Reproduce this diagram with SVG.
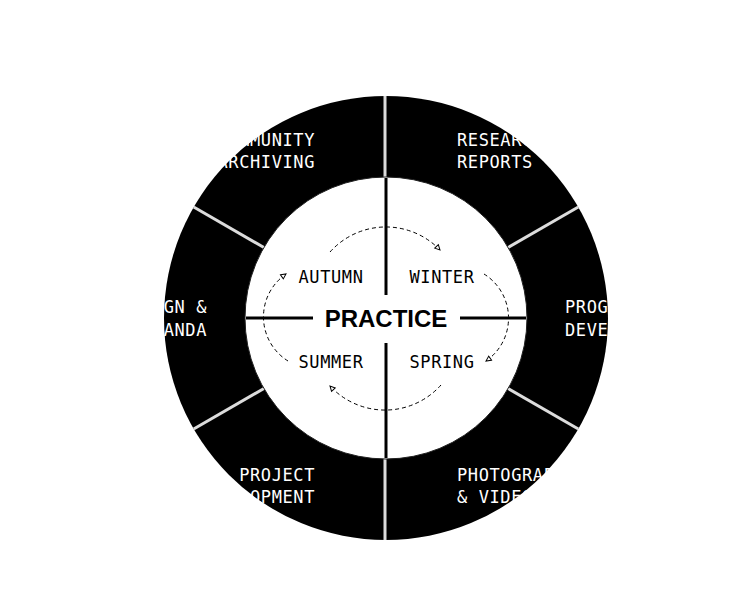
<svg xmlns="http://www.w3.org/2000/svg" width="750" height="600" viewBox="0 0 750 600">
<defs>
<style>
.lbl{font-family:"DejaVu Sans Mono","Liberation Mono",monospace;font-size:17px;letter-spacing:0.6px;fill:#ffffff}
.season{font-family:"DejaVu Sans Mono","Liberation Mono",monospace;font-size:17px;letter-spacing:0.6px;fill:#000000;text-anchor:middle}
.title{font-family:"Liberation Sans",Arial,sans-serif;font-size:24px;font-weight:bold;fill:#000000;text-anchor:middle}
.sep{stroke:#dcdcdc;stroke-width:3}
.cross{stroke:#000000;stroke-width:3}
.cyc{fill:none;stroke:#000000;stroke-width:1;stroke-dasharray:4 3}
</style>
<marker id="arr" viewBox="0 0 8 8" refX="6" refY="4" markerWidth="8" markerHeight="8" markerUnits="userSpaceOnUse" orient="auto">
<path d="M1,1.5 L6,4 L1,6.5 Z" fill="#ffffff" stroke="#000000" stroke-width="1"/>
</marker>
</defs>
<rect width="750" height="600" fill="#ffffff"/>
<g id="ring">
<circle cx="386" cy="318" r="222" fill="#000000"/>
</g>
<g id="separators">
<line class="sep" x1="385" y1="178" x2="385" y2="96"/>
<line class="sep" x1="385" y1="458" x2="385" y2="540"/>
<line class="sep" x1="264.8" y1="248" x2="193.7" y2="207"/>
<line class="sep" x1="507.2" y1="248" x2="578.3" y2="207"/>
<line class="sep" x1="264.8" y1="388" x2="193.7" y2="429"/>
<line class="sep" x1="507.2" y1="388" x2="578.3" y2="429"/>
</g>
<g id="inner">
<circle cx="386" cy="318" r="141" fill="#ffffff" stroke="#222222" stroke-width="1"/>
</g>
<g id="seg-community"><text class="lbl" text-anchor="end" x="315" y="146">COMMUNITY</text><text class="lbl" text-anchor="end" x="315" y="168">ARCHIVING</text></g>
<g id="seg-research"><text class="lbl" x="457" y="146">RESEARCH</text><text class="lbl" x="457" y="168">REPORTS</text></g>
<g id="seg-design"><text class="lbl" text-anchor="end" x="207" y="313">DESIGN &amp;</text><text class="lbl" text-anchor="end" x="207" y="336">PROPAGANDA</text></g>
<g id="seg-program"><text class="lbl" x="565" y="313">PROGRAM</text><text class="lbl" x="565" y="336">DEVELOPMENT</text></g>
<g id="seg-project"><text class="lbl" text-anchor="end" x="315" y="481">PROJECT</text><text class="lbl" text-anchor="end" x="315" y="503">DEVELOPMENT</text></g>
<g id="seg-photo"><text class="lbl" x="457" y="481">PHOTOGRAPHY</text><text class="lbl" x="457" y="503">&amp; VIDEO</text></g>
<g id="connectors">
<line class="cross" x1="386" y1="178" x2="386" y2="295"/>
<line class="cross" x1="386" y1="343" x2="386" y2="458"/>
<line class="cross" x1="246" y1="318" x2="313" y2="318"/>
<line class="cross" x1="460" y1="318" x2="526" y2="318"/>
<path class="cyc" d="M330,252 A75,75 0 0 1 440,250" marker-end="url(#arr)"/>
<path class="cyc" d="M484,274 A52,52 0 0 1 486,361" marker-end="url(#arr)"/>
<path class="cyc" d="M441,385 A75,75 0 0 1 330,386" marker-end="url(#arr)"/>
<path class="cyc" d="M288,361 A52,52 0 0 1 286,274" marker-end="url(#arr)"/>
</g>
<g id="center"><text class="title" x="386" y="327">PRACTICE</text></g>
<g id="autumn"><text class="season" x="331" y="283">AUTUMN</text></g>
<g id="winter"><text class="season" x="442" y="283">WINTER</text></g>
<g id="summer"><text class="season" x="331" y="368">SUMMER</text></g>
<g id="spring"><text class="season" x="442" y="368">SPRING</text></g>
</svg>
